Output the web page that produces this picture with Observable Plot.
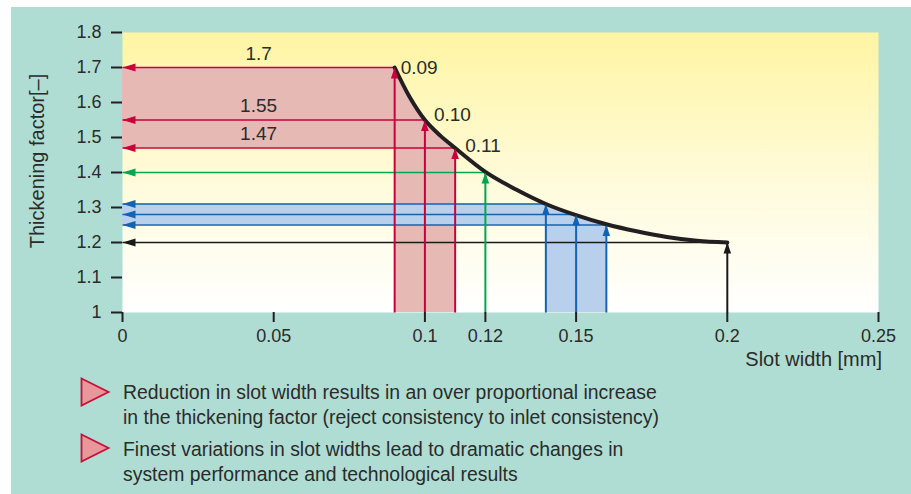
<!DOCTYPE html>
<html><head><meta charset="utf-8">
<script src="https://cdn.jsdelivr.net/npm/d3@7"></script>
<script src="https://cdn.jsdelivr.net/npm/@observablehq/plot@0.6"></script>
<style>
html,body{margin:0;padding:0;background:#fff;}
body{width:911px;height:494px;position:relative;overflow:hidden;font-family:"Liberation Sans",Arial,sans-serif;color:#2b2b2b;}
#panel{position:absolute;left:11px;top:7px;width:900px;height:487px;background:#b0ddd3;}
#chart{position:absolute;left:0;top:0;}
.ylab{position:absolute;left:37px;top:161px;transform:translate(-50%,-50%) rotate(-90deg);white-space:nowrap;font-size:20px;line-height:20px;}
.xlab{position:absolute;right:29px;top:349px;white-space:nowrap;font-size:20px;line-height:20px;}
.bullet{position:absolute;left:80px;}
.btext{position:absolute;left:123px;font-size:20px;line-height:25px;white-space:nowrap;transform:scaleX(0.97);transform-origin:0 0;}
</style>
</head><body>
<div id="panel"></div>
<div id="chart"></div>
<div class="ylab">Thickening factor[–]</div>
<div class="xlab">Slot width [mm]</div>
<svg class="bullet" style="top:377px" width="31" height="31"><path d="M1.5,1.5 L28.5,15 L1.5,28.5 Z" fill="#e8979a" stroke="#c8103c" stroke-width="1.8"/></svg>
<div class="btext" style="top:379.5px">Reduction in slot width results in an over proportional increase<br>in the thickening factor (reject consistency to inlet consistency)</div>
<svg class="bullet" style="top:433px" width="31" height="31"><path d="M1.5,1.5 L28.5,15 L1.5,28.5 Z" fill="#e8979a" stroke="#c8103c" stroke-width="1.8"/></svg>
<div class="btext" style="top:436.5px">Finest variations in slot widths lead to dramatic changes in<br>system performance and technological results</div>
<script>
// Curve: slot width (mm) vs thickening factor
const curveX = [0.09, 0.095, 0.10, 0.105, 0.11, 0.12, 0.13, 0.14, 0.15, 0.16, 0.17, 0.18, 0.19, 0.20];
const curveY = [1.70, 1.615, 1.55, 1.506, 1.47, 1.402, 1.352, 1.31, 1.278, 1.252, 1.232, 1.216, 1.205, 1.20];

// Highlighted operating points
const markX = [0.09, 0.10, 0.11, 0.12, 0.14, 0.15, 0.16, 0.20];
const markY = [1.70, 1.55, 1.47, 1.40, 1.31, 1.28, 1.25, 1.20];
const markGroup = ["coarse", "coarse", "coarse", "mid", "fine", "fine", "fine", "base"];

// Annotation labels
const factorLabels = ["1.7", "1.55", "1.47"];
const widthLabels = ["0.09", "0.10", "0.11"];

// Ticks
const xTicks = [0, 0.05, 0.1, 0.12, 0.15, 0.2, 0.25];
const yTicks = [1, 1.1, 1.2, 1.3, 1.4, 1.5, 1.6, 1.7, 1.8];
const xDomain = [0, 0.25];
const yDomain = [1, 1.8];

const curve = curveX.map((x, i) => ({x, y: curveY[i]}));
const pts = markX.map((x, i) => ({x, y: markY[i], g: markGroup[i]}));

function band(group) {
  const p = pts.filter(d => d.g === group);
  const xs = p.map(d => d.x), ys = p.map(d => d.y);
  const x0 = d3.min(xs), x1 = d3.max(xs);
  return {
    rect: [{x1: xDomain[0], x2: x0, y1: d3.min(ys), y2: d3.max(ys)}],
    area: curve.filter(d => d.x >= x0 - 1e-9 && d.x <= x1 + 1e-9)
  };
}
const red = band("coarse"), blue = band("fine");

const leftHead = {draw(ctx) { ctx.moveTo(0, 0); ctx.lineTo(13, -4); ctx.lineTo(13, 4); ctx.closePath(); }};
const upHead = {draw(ctx) { ctx.moveTo(0, 0); ctx.lineTo(-3.8, 11); ctx.lineTo(3.8, 11); ctx.closePath(); }};

const colorDomain = ["coarse", "mid", "fine", "base"];
const colorRange = ["#c8003c", "#00a651", "#1463b3", "#1a1a1a"];
const fontFam = '"Liberation Sans",Arial,sans-serif';

const redLabelOffsets = [[6, 0], [9, -5], [10, -2]];
const redPts = pts.filter(d => d.g === "coarse");

const chart = Plot.plot({
  width: 911, height: 350,
  marginLeft: 122, marginRight: 33, marginTop: 32, marginBottom: 38,
  style: {fontFamily: fontFam, fontSize: "18px", color: "#2b2b2b", background: "transparent", overflow: "visible"},
  x: {domain: xDomain},
  y: {domain: yDomain},
  color: {domain: colorDomain, range: colorRange},
  marks: [
    Plot.frame({fill: "url(#bgGrad)", stroke: null}),
    Plot.rect(red.rect, {x1: "x1", x2: "x2", y1: "y1", y2: "y2", fill: "#e7b9b5"}),
    Plot.areaY(red.area, {x: "x", y1: () => yDomain[0], y2: "y", curve: "catmull-rom", fill: "#e7b9b5"}),
    Plot.rect(blue.rect, {x1: "x1", x2: "x2", y1: "y1", y2: "y2", fill: "#b9d0ec"}),
    Plot.areaY(blue.area, {x: "x", y1: () => yDomain[0], y2: "y", curve: "catmull-rom", fill: "#b9d0ec"}),
    Plot.link(pts, {x1: "x", x2: () => xDomain[0], y1: "y", y2: "y", stroke: "g", strokeWidth: 1.6}),
    Plot.link(pts, {x1: "x", x2: "x", y1: () => yDomain[0], y2: "y", stroke: "g", strokeWidth: 2}),
    Plot.line(curve, {x: "x", y: "y", curve: "catmull-rom", stroke: "#231f20", strokeWidth: 4}),
    Plot.dot(pts, {x: () => xDomain[0], y: "y", symbol: leftHead, fill: "g", stroke: null}),
    Plot.dot(pts, {x: "x", y: "y", symbol: upHead, fill: "g", stroke: null}),
    Plot.text(redPts, {x: d => (xDomain[0] + redPts[0].x) / 2, y: "y", text: (d, i) => factorLabels[i], dy: -14, fontSize: 19, fill: "#2b2b2b"}),
    ...redPts.map((d, i) => Plot.text([d], {x: "x", y: "y", text: () => widthLabels[i], textAnchor: "start", dx: redLabelOffsets[i][0], dy: redLabelOffsets[i][1], fontSize: 19, fill: "#2b2b2b"})),
    Plot.axisX(xTicks, {tickSize: 10, tickPadding: 7, tickFormat: d => String(d), label: null, fontSize: 18, stroke: "#231f20", strokeWidth: 2}),
    Plot.axisY(yTicks, {tickSize: 11, tickPadding: 10, tickFormat: d => String(d), label: null, fontSize: 18, stroke: "#231f20", strokeWidth: 2})
  ]
});

const ns = "http://www.w3.org/2000/svg";
const defs = document.createElementNS(ns, "defs");
defs.innerHTML = '<linearGradient id="bgGrad" x1="0" y1="0" x2="0" y2="1"><stop offset="0" stop-color="#fff5a3"/><stop offset="0.55" stop-color="#fffbdc"/><stop offset="1" stop-color="#ffffff"/></linearGradient>';
chart.insertBefore(defs, chart.firstChild);
document.getElementById("chart").appendChild(chart);
</script>
</body></html>
